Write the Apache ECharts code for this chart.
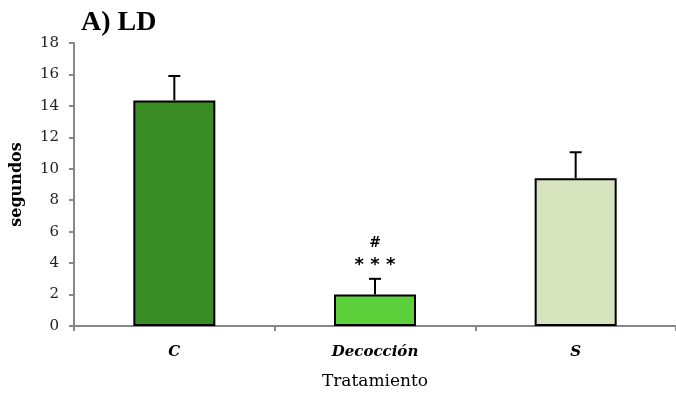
<!DOCTYPE html>
<html><head><meta charset="utf-8">
<script src="https://cdn.jsdelivr.net/npm/echarts@6/dist/echarts.min.js"></script>
<style>html,body{margin:0;padding:0;background:#fff}#c{width:676px;height:396px}</style>
</head><body><div id="c"></div>
<script>
var categories = ['C', 'Decocción', 'S'];
var means = [14.35, 2.0, 9.4];
var errors = [1.55, 1.0, 1.65];
var annotations = ['', '* * *', ''];
var annotations2 = ['', '#', ''];
var colors = ['#388C23', '#5BD03B', '#D7E4BD'];
var yTicks = {min: 0, max: 18, interval: 2};

var serif = '"DejaVu Serif", "Liberation Serif", serif';
var chart = echarts.init(document.getElementById('c'));
chart.setOption({
  animation: false,
  title: {text: 'A) LD', left: 76, top: 4, textStyle: {fontFamily: '"Liberation Serif", serif', fontSize: 28, fontWeight: 'bold', color: '#000'}},
  grid: {left: 74, top: 43, width: 606, bottom: 70},
  xAxis: {
    type: 'category', data: categories,
    axisLine: {lineStyle: {color: '#888', width: 2}},
    axisTick: {show: true, length: 5, lineStyle: {color: '#888', width: 2}},
    axisLabel: {fontFamily: serif, fontSize: 15, fontWeight: 'bold', fontStyle: 'italic', color: '#000', margin: 19},
    name: 'Tratamiento', nameLocation: 'middle', nameGap: 47,
    nameTextStyle: {fontFamily: serif, fontSize: 17, color: '#000'}
  },
  yAxis: {
    type: 'value', min: yTicks.min, max: yTicks.max, interval: yTicks.interval,
    splitLine: {show: false},
    axisLine: {show: true, lineStyle: {color: '#888', width: 2}},
    axisTick: {show: true, length: 5, lineStyle: {color: '#888', width: 2}},
    axisLabel: {fontFamily: serif, fontSize: 15, color: '#222', margin: 15},
    name: 'segundos', nameLocation: 'middle', nameGap: 49,
    nameTextStyle: {fontFamily: serif, fontSize: 16, fontWeight: 'bold', color: '#000'}
  },
  series: [
    {
      type: 'bar', barWidth: 82,
      data: means.map(function (v, i) { return {value: v, itemStyle: {color: colors[i]}}; }),
      itemStyle: {borderColor: '#000', borderWidth: 2}
    },
    {
      type: 'custom', z: 5,
      data: means.map(function (v, i) { return [i, v, v + errors[i]]; }),
      renderItem: function (params, api) {
        var i = api.value(0);
        var base = api.coord([i, api.value(1)]);
        var top = api.coord([i, api.value(2)]);
        var children = [
          {type: 'line', shape: {x1: base[0], y1: base[1], x2: top[0], y2: top[1]}, style: {stroke: '#000', lineWidth: 2}},
          {type: 'line', shape: {x1: top[0] - 6, y1: top[1], x2: top[0] + 6, y2: top[1]}, style: {stroke: '#000', lineWidth: 2}}
        ];
        if (annotations[i]) {
          children.push({type: 'text', style: {text: annotations[i], x: top[0], y: top[1] - 14, textAlign: 'center', textVerticalAlign: 'middle', font: 'bold 18px "DejaVu Sans", sans-serif', fill: '#000'}});
        }
        if (annotations2[i]) {
          children.push({type: 'text', style: {text: annotations2[i], x: top[0], y: top[1] - 35, textAlign: 'center', textVerticalAlign: 'middle', font: 'bold 14px ' + serif, fill: '#000'}});
        }
        return {type: 'group', children: children};
      }
    }
  ]
});
</script></body></html>
